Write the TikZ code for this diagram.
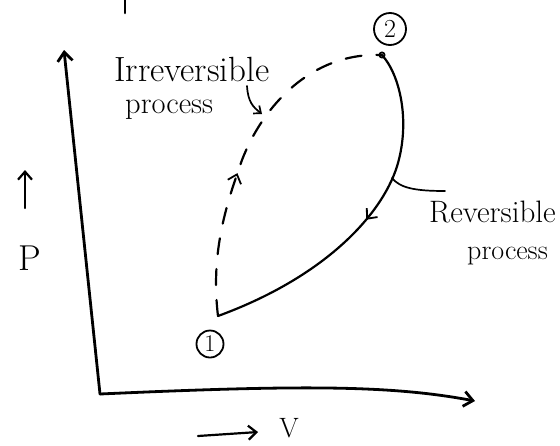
\documentclass[tikz,border=0pt]{standalone}
\usetikzlibrary{arrows.meta,decorations.markings,calc}
\begin{document}
\begin{tikzpicture}[x=1pt,y=-1pt,
  ink/.style={line width=2.2pt, line cap=round, line join=round},
  barb/.style={-{Straight Barb[length=8pt,width=14pt]}},
  axisline/.style={ink, line width=2.8pt, -{Straight Barb[length=9pt,width=15pt]}},
  lbl/.style={font=\fontsize{#1}{#1}\selectfont, inner sep=0pt},
  stn/.style={circle, draw, line width=1.8pt, inner sep=0pt, minimum size=27pt, font=\fontsize{24}{24}\selectfont},
  leader/.style={ink, line width=1.7pt},
  midarrow/.style={postaction={decorate}, decoration={markings, mark=at position #1 with {\arrow[line width=1.8pt]{Straight Barb[length=8pt,width=14pt]}}}}
]
\useasboundingbox (0,0) rectangle (560,445);

% points
\node[stn] (n1) at (210,344) {1};
\node[stn, minimum size=32pt, font=\fontsize{26}{26}\selectfont] (n2) at (390,29) {2};
\coordinate (s1) at (218,316);
\coordinate (s2) at (382,55);
\coordinate (O) at (100,394);
\coordinate (ptop) at (64,50);
\coordinate (vend) at (475,401);

% axes
\draw[axisline] (O) -- (ptop);
\draw[axisline] (O) .. controls (300,385) and (390,385) .. (vend);

% irreversible (dashed)
\draw[ink, dash pattern=on 16pt off 15pt, midarrow=0.42]
  (s1) .. controls (210,250) and (228,200) .. (242,160)
       .. controls (262,108) and (310,52) .. (s2);

% reversible
\draw[ink, midarrow=0.5]
  (s2) .. controls (400,75) and (410,120) .. (398,163)
       .. controls (385,210) and (330,275) .. (s1);
\draw[ink, line width=1.8pt] (s2) circle (2.6pt);

% labels
\node[lbl=35, anchor=base west] (irr) at (114,81) {Irreversible};
\node[lbl=30.5, anchor=base west] (irrp) at (125,113) {process};
\node[lbl=31, anchor=base west] (rev) at (429,222) {Reversible};
\node[lbl=28, anchor=base west] (revp) at (467,259) {process};

% leaders
\coordinate (a1) at (247,86);
\coordinate (a2) at (262,114);
\draw[leader, -{Straight Barb[length=6pt,width=10pt]}] (a1) .. controls (248,102) and (253,107) .. (a2);
\coordinate (b1) at (445,191);
\coordinate (b2) at (392,178);
\draw[leader] (b1) .. controls (415,191) and (400,188) .. (b2);

% axis names
\coordinate (pa0) at (25,208);
\coordinate (pa1) at (25,170);
\draw[ink, barb] (pa0) -- (pa1);
\node[lbl=36] (P) at (30,258) {P};
\coordinate (va0) at (198,436);
\coordinate (va1) at (258,432);
\draw[ink, barb] (va0) -- (va1);
\node[lbl=28] (V) at (289,428) {V};

% stray mark at top
\coordinate (t0) at (125,0);
\coordinate (t1) at (125,13);
\draw[ink, line width=2.6pt] (t0) -- (t1);
\end{tikzpicture}
\end{document}
